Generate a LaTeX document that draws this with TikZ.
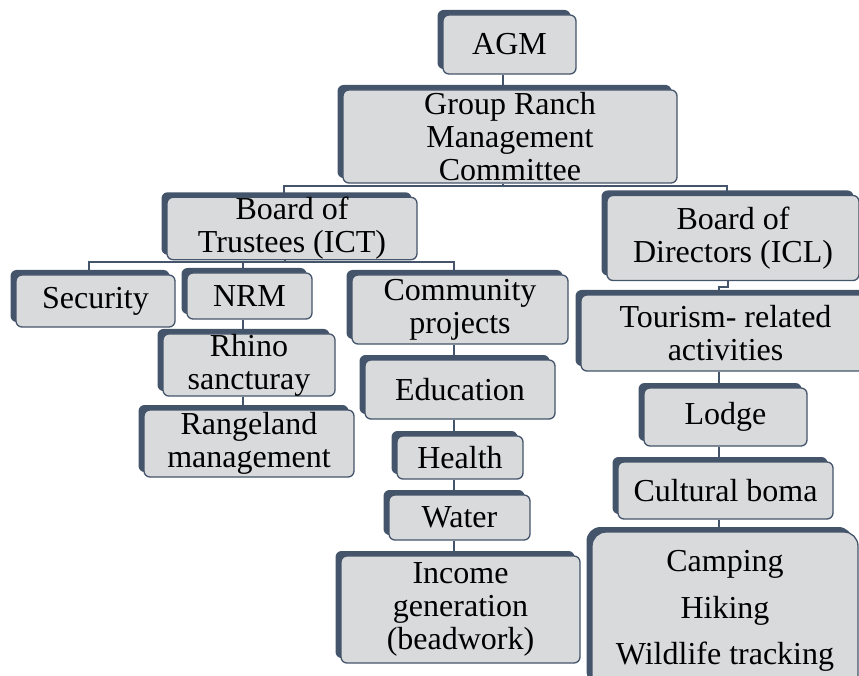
\documentclass[tikz,border=0pt]{standalone}
\usepackage{fontspec}
\setmainfont{Liberation Serif}
\usetikzlibrary{shadows}
\definecolor{slate}{HTML}{44546A}
\definecolor{boxgray}{HTML}{D9DADC}
\pgfdeclarelayer{back}
\pgfsetlayers{back,main}
\tikzset{
  unit/.style={draw=slate, line width=1.3pt, fill=boxgray, rounded corners=6pt,
    align=center, inner sep=0pt,
    font=\fontsize{32}{33}\selectfont,
    general shadow={fill=slate, shadow xshift=-5.5pt, shadow yshift=5pt}},
  link/.style={draw=slate, line width=1.8pt}
}
\begin{document}
\begin{tikzpicture}[x=1pt,y=-1pt]
\useasboundingbox (0,0) rectangle (859,676);
% column and bus positions of the connectors
\coordinate (cT) at (503,0);
\coordinate (cL) at (243,0);
\coordinate (cM) at (454,0);
\coordinate (cR) at (719,0);
\coordinate (b1) at (0,186);
\coordinate (b2) at (0,262);
\coordinate (jg) at (0,287);

% boxes
\node[unit, minimum width=133pt, minimum height=59pt] (agm) at (509.5,44.5) {AGM};
\node[unit, minimum width=334pt, minimum height=93pt] (grmc) at (510,136.5) {Group Ranch\\Management\\Committee};
\node[unit, minimum width=250pt, minimum height=61pt] (bot) at (292,228.5) {Board of\\Trustees (ICT)};
\node[unit, minimum width=252pt, minimum height=85pt] (bod) at (733,238) {Board of\\Directors (ICL)};
\node[unit, minimum width=159pt, minimum height=52pt] (sec) at (95.5,301) {Security};
\node[unit, minimum width=125pt, minimum height=46pt] (nrm) at (249.5,296) {NRM};
\node[unit, minimum width=172pt, minimum height=58pt] (rhino) at (249,365) {Rhino\\sancturay};
\node[unit, minimum width=210pt, minimum height=67pt] (range) at (249,443.5) {Rangeland\\management};
\node[unit, minimum width=216pt, minimum height=69pt] (comm) at (460,309.5) {Community\\projects};
\node[unit, minimum width=190pt, minimum height=59pt] (edu) at (460,389.5) {Education};
\node[unit, minimum width=126pt, minimum height=43pt] (health) at (460,457.5) {Health};
\node[unit, minimum width=141pt, minimum height=45pt] (water) at (459.5,517.5) {Water};
\node[unit, minimum width=239pt, minimum height=107pt] (income) at (460.5,609.5) {Income\\generation\\(beadwork)};
\node[unit, minimum width=289pt, minimum height=76pt] (tour) at (725.5,333) {Tourism- related\\activities};
\node[unit, minimum width=163pt, minimum height=58pt] (lodge) at (725.5,417) {Lodge};
\node[unit, minimum width=215pt, minimum height=57pt] (boma) at (725.5,490.5) {Cultural boma};
\node[unit, rounded corners=14pt, minimum width=266pt, minimum height=158pt,
      font=\fontsize{32}{46.5}\selectfont] (camp) at (725,611) {Camping\\Hiking\\Wildlife tracking};

% connectors, kept underneath the boxes
\begin{pgfonlayer}{back}
\draw[link] (agm.south -| cT) -- (grmc.north -| cT);
\draw[link] (grmc.south -| cT) -- (cT |- b1);
\draw[link] ([xshift=-8pt]bot.north) |- ([xshift=-6pt]bod.north |- b1) -- ([xshift=-6pt]bod.north);
\draw[link] ([xshift=-7pt]bot.south) -- ([xshift=-7pt]bot.south |- b2);
\draw[link] ([xshift=-6.5pt]sec.north) |- (cM |- b2) -- (comm.north -| cM);
\draw[link] (nrm.north -| cL) -- (cL |- b2);
\draw[link] (nrm.south -| cL) -- (rhino.north -| cL);
\draw[link] (rhino.south -| cL) -- (range.north -| cL);
\draw[link] (comm.south -| cM) -- (edu.north -| cM);
\draw[link] (edu.south -| cM) -- (health.north -| cM);
\draw[link] (health.south -| cM) -- (water.north -| cM);
\draw[link] (water.south -| cM) -- (income.north -| cM);
\draw[link] ([xshift=-5pt]bod.south) |- (cR |- jg) -- (tour.north -| cR);
\draw[link] (tour.south -| cR) -- (lodge.north -| cR);
\draw[link] (lodge.south -| cR) -- (boma.north -| cR);
\draw[link] (boma.south -| cR) -- (camp.north -| cR);
\end{pgfonlayer}
\end{tikzpicture}
\end{document}
